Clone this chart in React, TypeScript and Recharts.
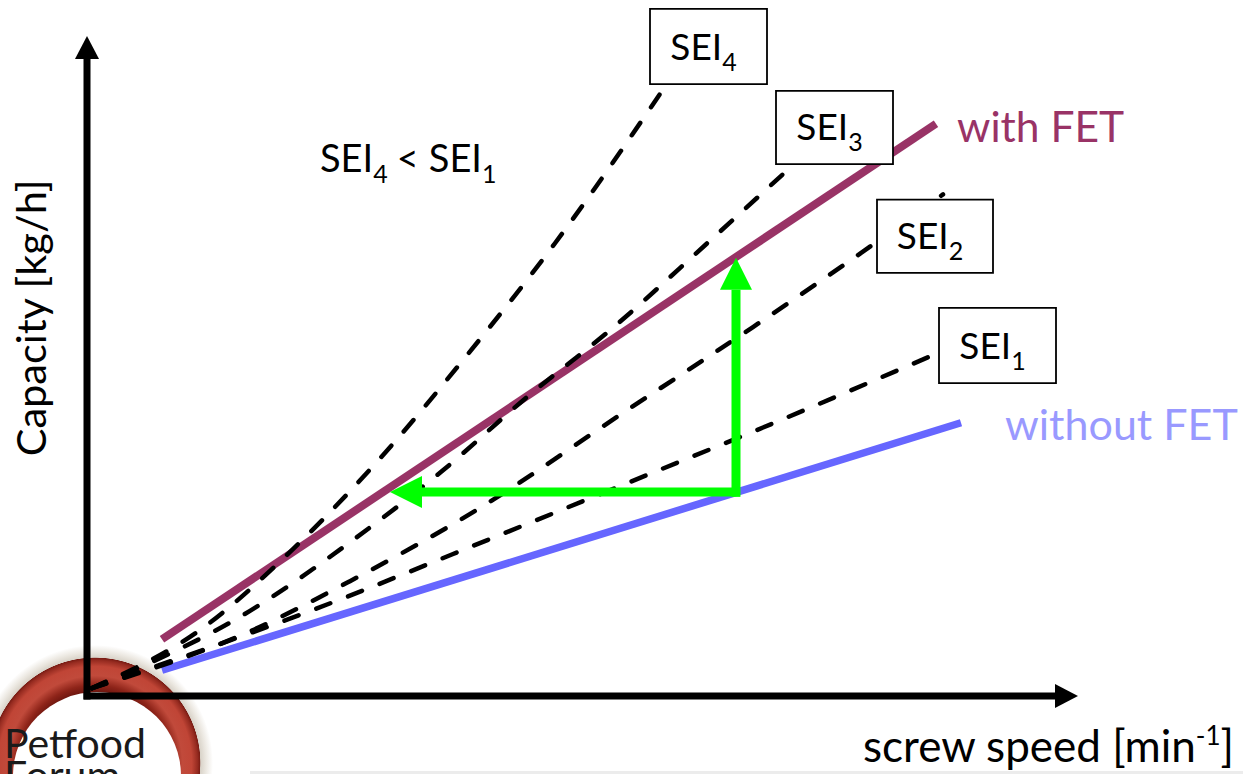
import React from 'react';
import {
  ComposedChart,
  Line,
  XAxis,
  YAxis,
  ReferenceLine,
  ReferenceArea,
  ReferenceDot,
} from 'recharts';

const FONT = "Lato, 'Open Sans', sans-serif";
const PURPLE = '#993366';
const BLUE = '#6666ff';
const BLUE_TEXT = '#9999ff';
const GREEN = '#00ff00';

// Capacity over screw speed, relative units (both axes 0–100)
const fetSpeed = [7.5, 84.9];
const fetCapacity = [8.6, 86.7];
const baseSpeed = [7.5, 87.4];
const baseCapacity = [3.9, 41.4];

// Lines of constant specific energy input (SEI)
const sei1Speed = [0.5, 21.3, 41.3, 53.6, 67.0, 85.3];
const sei1Capacity = [1.2, 12.3, 24.4, 32.0, 40.3, 52.1];
const sei2Speed = [0.5, 16.3, 26.3, 39.3, 54.0, 66.6, 78.5, 85.6];
const sei2Capacity = [1.2, 9.8, 17.4, 28.5, 43.3, 55.9, 68.3, 76.0];
const sei3Speed = [0.5, 16.3, 26.3, 35.6, 44.0, 52.6, 61.8, 70.7];
const sei3Capacity = [1.2, 12.9, 23.3, 34.2, 45.3, 55.8, 68.3, 80.6];
const sei4Speed = [0.5, 11.3, 21.3, 30.3, 37.6, 46.8, 58.1];
const sei4Capacity = [1.2, 10.0, 23.3, 37.7, 50.9, 68.6, 93.0];

// SEI label boxes
const seiNames = ['1', '2', '3', '4'];
const boxLeft = [85.2, 79.0, 68.9, 56.3];
const boxRight = [96.9, 90.6, 80.6, 68.0];
const boxBottom = [47.4, 64.1, 80.6, 92.7];
const boxTop = [58.8, 75.2, 91.7, 104.1];

// Operating point shift: same speed -> higher capacity, same capacity -> lower speed
const opSpeed = 64.9;
const opCapacityLow = 30.2;
const opCapacityHigh = 66.4;
const opLevel = 30.9;
const opSpeedStart = 65.3;
const opSpeedLow = 30.3;

const toSeries = (xs: number[], ys: number[]) => xs.map((x, i) => ({ x, y: ys[i] }));

const fetData = toSeries(fetSpeed, fetCapacity);
const baseData = toSeries(baseSpeed, baseCapacity);
const seiData = [
  toSeries(sei1Speed, sei1Capacity),
  toSeries(sei2Speed, sei2Capacity),
  toSeries(sei3Speed, sei3Capacity),
  toSeries(sei4Speed, sei4Capacity),
];

const arrowShape =
  (headLen: number, headHalf: number, width: number, color: string, cap: 'butt' | 'square') =>
  (p: any) => {
    const { x1, y1, x2, y2 } = p;
    const dx = x2 - x1;
    const dy = y2 - y1;
    const len = Math.hypot(dx, dy) || 1;
    const ux = dx / len;
    const uy = dy / len;
    const bx = x2 - ux * headLen;
    const by = y2 - uy * headLen;
    const nx = -uy;
    const ny = ux;
    return (
      <g>
        <line x1={x1} y1={y1} x2={bx} y2={by} stroke={color} strokeWidth={width} strokeLinecap={cap} />
        <polygon
          points={`${x2},${y2} ${bx + nx * headHalf},${by + ny * headHalf} ${bx - nx * headHalf},${by - ny * headHalf}`}
          fill={color}
        />
      </g>
    );
  };

const axisArrow = arrowShape(23, 12, 7, '#000', 'square');
const greenArrow = arrowShape(32, 16, 9, GREEN, 'butt');

const seiText = (n: string) => (p: any) => {
  const vb = p.viewBox || {};
  const cx = vb.x + vb.width / 2 - 5;
  const cy = vb.y + vb.height / 2 + 13;
  return (
    <text x={cx} y={cy} textAnchor="middle" fontFamily={FONT} fontSize={37} fill="#000">
      SEI
      <tspan fontSize={25} dy={11}>
        {n}
      </tspan>
    </text>
  );
};

const xLabel = (p: any) => {
  const vb = p.viewBox || {};
  return (
    <text x={vb.x + 776} y={vb.y + 66} fontFamily={FONT} fontSize={44} fill="#000">
      screw speed [min
      <tspan fontSize={26} dy={-17}>
        -1
      </tspan>
      <tspan dy={17}>]</tspan>
    </text>
  );
};

const yLabel = (p: any) => {
  const vb = p.viewBox || {};
  const x = vb.x + 46;
  const y = vb.y + 282;
  return (
    <text
      x={x}
      y={y}
      transform={`rotate(-90, ${x}, ${y})`}
      textAnchor="middle"
      fontFamily={FONT}
      fontSize={41.5}
      fill="#000"
    >
      Capacity [kg/h]
    </text>
  );
};

const Logo = () => (
  <svg width={1243} height={774} style={{ position: 'absolute', left: 0, top: 0 }}>
    <defs>
      <radialGradient id="ringFill" cx={95} cy={763} r={118} gradientUnits="userSpaceOnUse">
        <stop offset="0.6" stopColor="#6e160f" />
        <stop offset="0.66" stopColor="#8e2419" />
        <stop offset="0.74" stopColor="#c14a3b" />
        <stop offset="0.82" stopColor="#c04536" />
        <stop offset="0.87" stopColor="#962b20" />
        <stop offset="0.89" stopColor="#7a1c14" />
        <stop offset="0.895" stopColor="#d9d3c9" />
        <stop offset="0.94" stopColor="#ebe7e0" />
        <stop offset="1" stopColor="#ffffff" />
      </radialGradient>
    </defs>
    <rect x={250} y={771} width={993} height={3} fill="#ececec" />
    <circle cx={95} cy={763} r={118} fill="url(#ringFill)" />
    <circle cx={97} cy={776} r={84} fill="#ffffff" />
    <text x={4} y={758} fontFamily={FONT} fontSize={41} fill="#1a1a1a">
      Petfood
    </text>
    <text x={4} y={790} fontFamily={FONT} fontSize={41} fill="#1a1a1a">
      Forum
    </text>
  </svg>
);

export default function App() {
  const lastFet = fetData[fetData.length - 1];
  const lastBase = baseData[baseData.length - 1];
  return (
    <div style={{ position: 'fixed', left: 0, top: 0, width: 1243, height: 774, background: '#fff' }}>
      <Logo />
      <div style={{ position: 'absolute', left: 0, top: 0 }}>
        <ComposedChart width={1243} height={774} margin={{ top: 36, right: 156, bottom: 0, left: 0 }}>
          <XAxis
            type="number"
            dataKey="x"
            domain={[0, 100]}
            allowDataOverflow
            height={78}
            axisLine={false}
            tick={false}
            tickLine={false}
            label={xLabel}
          />
          <YAxis
            type="number"
            domain={[0, 100]}
            allowDataOverflow
            width={87}
            axisLine={false}
            tick={false}
            tickLine={false}
            label={yLabel}
          />

          <ReferenceLine segment={[{ x: 0, y: 0 }, { x: 99.1, y: 0 }]} shape={axisArrow} zIndex={300} />
          <ReferenceLine segment={[{ x: 0, y: 0 }, { x: 0, y: 100 }]} shape={axisArrow} zIndex={300} />

          <Line
            data={fetData}
            dataKey="y"
            stroke={PURPLE}
            strokeWidth={8}
            dot={false}
            activeDot={false}
            isAnimationActive={false}
            zIndex={400}
          />
          <Line
            data={baseData}
            dataKey="y"
            stroke={BLUE}
            strokeWidth={7.5}
            dot={false}
            activeDot={false}
            isAnimationActive={false}
            zIndex={400}
          />

          {seiData.map((d, i) => (
            <Line
              key={`sei${i}`}
              data={d}
              dataKey="y"
              type="monotone"
              stroke="#000"
              strokeWidth={4.5}
              strokeDasharray="15 19"
              strokeLinecap="round"
              dot={false}
              activeDot={false}
              isAnimationActive={false}
              zIndex={410}
            />
          ))}

          <ReferenceLine
            segment={[{ x: opSpeed, y: opCapacityLow }, { x: opSpeed, y: opCapacityHigh }]}
            shape={greenArrow}
            zIndex={450}
          />
          <ReferenceLine
            segment={[{ x: opSpeedStart, y: opLevel }, { x: opSpeedLow, y: opLevel }]}
            shape={greenArrow}
            zIndex={450}
          />

          {seiNames.map((n, i) => (
            <ReferenceArea
              key={`box${n}`}
              x1={boxLeft[i]}
              x2={boxRight[i]}
              y1={boxBottom[i]}
              y2={boxTop[i]}
              fill="#fff"
              fillOpacity={1}
              stroke="#000"
              strokeWidth={1.8}
              ifOverflow="visible"
              label={seiText(n)}
              zIndex={500}
            />
          ))}

          <ReferenceDot
            x={lastFet.x}
            y={lastFet.y}
            r={0}
            zIndex={500}
            shape={(p: any) => (
              <text x={p.cx + 21} y={p.cy + 18} fontFamily={FONT} fontSize={42.5} fill={PURPLE}>
                with FET
              </text>
            )}
          />
          <ReferenceDot
            x={lastBase.x}
            y={lastBase.y}
            r={0}
            zIndex={500}
            shape={(p: any) => (
              <text x={p.cx + 44} y={p.cy + 17} fontFamily={FONT} fontSize={43} fill={BLUE_TEXT}>
                without FET
              </text>
            )}
          />
          <ReferenceDot
            x={23.3}
            y={79.4}
            r={0}
            zIndex={500}
            shape={(p: any) => (
              <text x={p.cx} y={p.cy} fontFamily={FONT} fontSize={38} fill="#000">
                SEI
                <tspan fontSize={25} dy={11}>
                  4
                </tspan>
                <tspan dy={-11} dx={9}>
                  &lt;
                </tspan>
                <tspan dx={10}>SEI</tspan>
                <tspan fontSize={25} dy={11}>
                  1
                </tspan>
              </text>
            )}
          />
        </ComposedChart>
      </div>
    </div>
  );
}
